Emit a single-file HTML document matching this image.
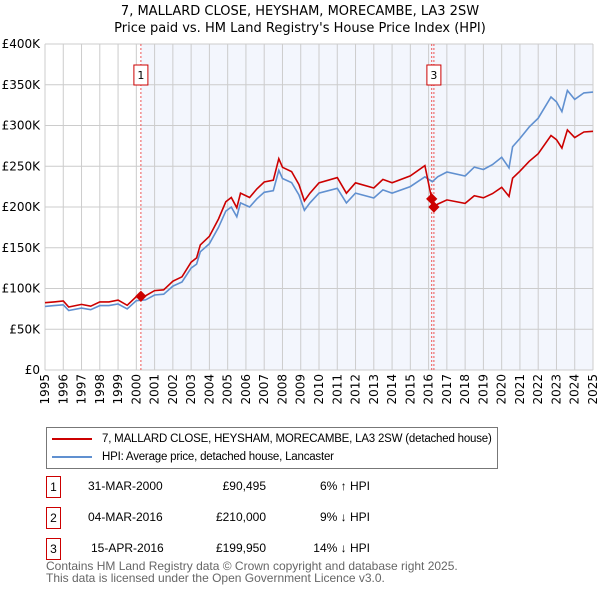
<!DOCTYPE html>
<html><head><meta charset="utf-8"><style>
body{margin:0;background:#fff;font-family:"Liberation Sans","DejaVu Sans",sans-serif;}
#wrap{position:relative;width:600px;height:590px;overflow:hidden;}
.t{position:absolute;font-size:12px;color:#000;white-space:nowrap}
.box{position:absolute;width:13px;height:20px;border:1px solid #c00;font-size:12px;text-align:center;line-height:20px}
</style></head><body>
<div id="wrap">
<svg id="chart" width="600" height="415" style="position:absolute;left:0;top:0" font-family="DejaVu Sans, Liberation Sans, sans-serif"></svg>
<div style="position:absolute;left:46px;top:427px;width:450px;height:40px;border:1px solid #777;">
 <div style="position:absolute;left:5px;top:5px;font-size:11.5px;white-space:nowrap;letter-spacing:-0.2px"><span style="display:inline-block;width:40px;height:2px;background:#c00;vertical-align:middle;margin-right:10px"></span>7, MALLARD CLOSE, HEYSHAM, MORECAMBE, LA3 2SW (detached house)</div>
 <div style="position:absolute;left:5px;top:23px;font-size:11.5px;white-space:nowrap;letter-spacing:-0.2px"><span style="display:inline-block;width:40px;height:2px;background:#6090d0;vertical-align:middle;margin-right:10px"></span>HPI: Average price, detached house, Lancaster</div>
</div>
<div class="box" style="left:46px;top:476px">1</div>
<div class="t" style="left:88px;top:479px">31-MAR-2000</div>
<div class="t" style="left:206px;top:479px;width:60px;text-align:right">£90,495</div>
<div class="t" style="left:300px;top:479px;width:70px;text-align:right">6% ↑ HPI</div>
<div class="box" style="left:46px;top:507px">2</div>
<div class="t" style="left:88px;top:510px">04-MAR-2016</div>
<div class="t" style="left:206px;top:510px;width:60px;text-align:right">£210,000</div>
<div class="t" style="left:300px;top:510px;width:70px;text-align:right">9% ↓ HPI</div>
<div class="box" style="left:46px;top:538px">3</div>
<div class="t" style="left:91px;top:541px">15-APR-2016</div>
<div class="t" style="left:206px;top:541px;width:60px;text-align:right">£199,950</div>
<div class="t" style="left:300px;top:541px;width:70px;text-align:right">14% ↓ HPI</div>
<div class="t" style="left:46px;top:560px;color:#666;line-height:12px">Contains HM Land Registry data © Crown copyright and database right 2025.<br>This data is licensed under the Open Government Licence v3.0.</div>
</div>
<script>
const hpiDates=[1995,1995.5,1996,1996.3,1997,1997.5,1998,1998.5,1999,1999.5,2000,2000.5,2001,2001.5,2002,2002.5,2003,2003.3,2003.5,2004,2004.5,2004.9,2005.2,2005.5,2005.7,2006.2,2006.6,2007,2007.5,2007.8,2008,2008.5,2008.9,2009.2,2009.5,2010,2011,2011.5,2012,2013,2013.5,2014,2015,2015.8,2016.2,2016.5,2017,2018,2018.5,2019,2019.5,2020,2020.4,2020.6,2021,2021.5,2022,2022.7,2023,2023.3,2023.6,2024,2024.5,2025];
const hpiValues=[78,79,80,73,76,74,79,79,81,75,85,86,92,93,103,108,125,130,145,155,175,195,200,188,205,200,210,218,220,245,235,230,215,196,205,217,223,205,217,211,221,217,225,237,231,237,243,238,249,246,252,261,248,274,284,298,309,335,329,317,343,332,340,341];
const saleDates=[2000.25,2016.17,2016.29];
const salePrices=[90.495,210,199.95];
const saleLabels=["1","2","3"];
const yTicks=[0,50,100,150,200,250,300,350,400];
const yTickLabels=["£0","£50K","£100K","£150K","£200K","£250K","£300K","£350K","£400K"];
const xYears=[1995,1996,1997,1998,1999,2000,2001,2002,2003,2004,2005,2006,2007,2008,2009,2010,2011,2012,2013,2014,2015,2016,2017,2018,2019,2020,2021,2022,2023,2024,2025];

const L=45,R=593,T=44,B=370;
const x=d=>L+(d-1995)/30*(R-L);
const y=v=>B-v/400*(B-T);
const svg=document.getElementById('chart');
const NS='http://www.w3.org/2000/svg';
function mk(tag,attrs,parent){const e=document.createElementNS(NS,tag);for(const k in attrs)e.setAttribute(k,attrs[k]);(parent||svg).appendChild(e);return e;}
function hpiAt(d){for(let i=1;i<hpiDates.length;i++){if(d<=hpiDates[i]){const f=(d-hpiDates[i-1])/(hpiDates[i]-hpiDates[i-1]);return hpiValues[i-1]+f*(hpiValues[i]-hpiValues[i-1]);}}return hpiValues[hpiValues.length-1];}

let t=mk('text',{x:300,y:15,'text-anchor':'middle','font-size':13});t.textContent="7, MALLARD CLOSE, HEYSHAM, MORECAMBE, LA3 2SW";

t=mk('text',{x:300,y:32,'text-anchor':'middle','font-size':13});t.textContent="Price paid vs. HM Land Registry's House Price Index (HPI)";


const shade=mk('rect',{x:x(saleDates[0]),y:T,width:R-x(saleDates[0]),height:B-T,fill:'#f3f6fd'});

xYears.forEach(yr=>{const g=mk('line',{x1:x(yr),x2:x(yr),y1:T,y2:B,stroke:'#ccc','stroke-width':1});
 
 const lb=mk('text',{transform:`translate(${x(yr)+4},374) rotate(-90)`,'text-anchor':'end','font-size':12});lb.textContent=yr;
 });
yTicks.forEach((v,i)=>{const g=mk('line',{x1:L,x2:R,y1:y(v),y2:y(v),stroke:'#ccc','stroke-width':1});
 
 const lb=mk('text',{x:40,y:y(v)+4,'text-anchor':'end','font-size':12});lb.textContent=yTickLabels[i];
 });

saleDates.forEach(d=>{const l=mk('line',{x1:x(d),x2:x(d),y1:T,y2:B,stroke:'#e55','stroke-width':1,'stroke-dasharray':'2,2'});
 });

let hp='';hpiDates.forEach((d,i)=>{hp+=(i?'L':'M')+x(d).toFixed(1)+','+y(hpiValues[i]).toFixed(1);});
const hl=mk('path',{d:hp,fill:'none',stroke:'#6090d0','stroke-width':1.6});


let rp='',first=true;
const pts=[...hpiDates,...saleDates].sort((a,b)=>a-b);
pts.forEach(d=>{let si=0;for(let k=0;k<saleDates.length;k++)if(d>=saleDates[k])si=k;
 const v=salePrices[si]*hpiAt(d)/hpiAt(saleDates[si]);
 rp+=(first?'M':'L')+x(d).toFixed(1)+','+y(v).toFixed(1);first=false;});
const rl=mk('path',{d:rp,fill:'none',stroke:'#c00','stroke-width':1.6});


saleDates.forEach((d,i)=>{const p=mk('rect',{x:x(d)-4,y:y(salePrices[i])-4,width:8,height:8,fill:'#c00',transform:`rotate(45 ${x(d)} ${y(salePrices[i])})`});
 });
[0,2].forEach(i=>{const bx=x(saleDates[i]);
 const r=mk('rect',{x:bx-7,y:65,width:14,height:20,fill:'#fff',stroke:'#c00'});
 
 const tx=mk('text',{x:bx,y:79,'text-anchor':'middle','font-size':11});tx.textContent=saleLabels[i];
 });
</script>
</body></html>
